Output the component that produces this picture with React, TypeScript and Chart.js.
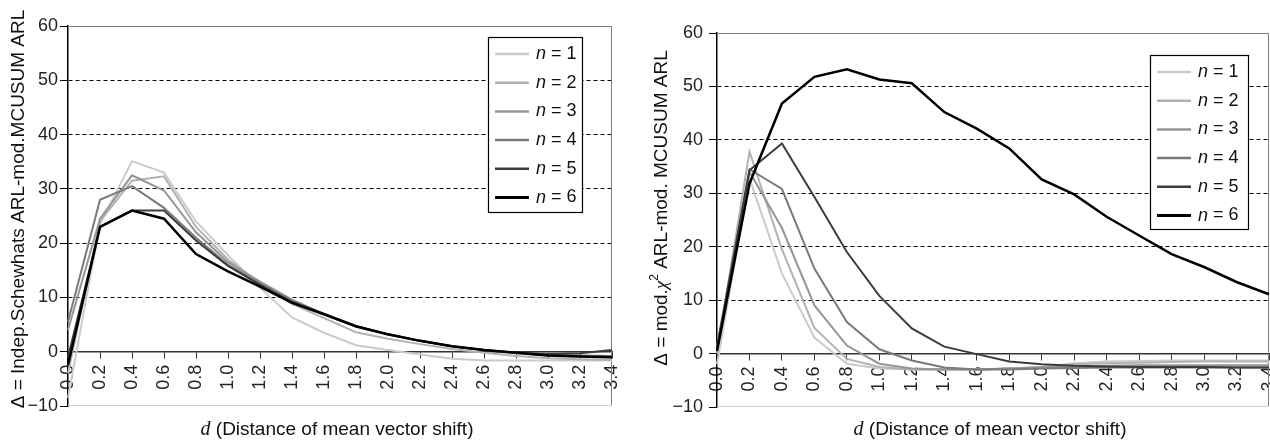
import { useEffect, useRef } from 'react';
import { Chart, registerables } from 'chart.js';

Chart.register(...registerables);

// ---------- data ----------
const dLabels = ['0.0', '0.2', '0.4', '0.6', '0.8', '1.0', '1.2', '1.4', '1.6', '1.8', '2.0', '2.2', '2.4', '2.6', '2.8', '3.0', '3.2', '3.4'];
const seriesNames = ['1', '2', '3', '4', '5', '6'];

const leftN1 = [-8.5, 23.5, 35.1, 33.0, 24.0, 17.8, 11.8, 6.3, 3.5, 1.2, 0.3, -0.5, -1.3, -1.6, -1.6, -1.6, -1.6, -1.6];
const leftN2 = [-4, 24.0, 31.5, 32.3, 23.0, 17.0, 12.6, 8.8, 6.2, 3.6, 2.4, 1.4, 0.5, -0.2, -0.8, -1.2, -1.4, -1.5];
const leftN3 = [4, 24.5, 32.5, 29.7, 22.0, 16.5, 12.9, 9.6, 6.9, 4.6, 3.1, 2.0, 1.0, 0.3, -0.3, -0.7, -0.9, -1.0];
const leftN4 = [5.5, 28.0, 30.5, 26.5, 21.0, 16.0, 12.6, 9.4, 7.0, 4.7, 3.2, 2.0, 1.0, 0.3, -0.2, -0.5, -0.7, -0.8];
const leftN5 = [-1, 23.0, 26.0, 26.0, 20.5, 15.8, 12.3, 9.2, 6.9, 4.7, 3.2, 2.0, 1.0, 0.3, -0.2, -0.4, -0.3, 0.3];
const leftN6 = [-2.5, 23.0, 26.0, 24.5, 18.0, 14.8, 12.0, 9.0, 6.9, 4.7, 3.2, 2.0, 1.0, 0.3, -0.2, -0.7, -0.9, -1.0];

const rightN1 = [-2, 32.8, 15.0, 3.0, -1.9, -2.8, -3.0, -3.0, -3.0, -2.8, -2.5, -1.8, -1.5, -1.4, -1.3, -1.3, -1.3, -1.3];
const rightN2 = [0, 37.8, 19.5, 4.8, -1.0, -2.5, -3.0, -3.0, -3.0, -2.8, -2.5, -2.0, -1.8, -1.7, -1.6, -1.5, -1.5, -1.5];
const rightN3 = [1, 34.0, 23.5, 9.0, 1.5, -1.9, -2.8, -3.0, -3.0, -2.8, -2.6, -2.4, -2.3, -2.2, -2.2, -2.2, -2.2, -2.2];
const rightN4 = [1.5, 34.5, 30.8, 15.9, 5.9, 0.8, -1.3, -2.6, -3.0, -3.0, -2.8, -2.7, -2.6, -2.6, -2.6, -2.6, -2.6, -2.6];
const rightN5 = [1, 34.3, 39.3, 29.3, 19.0, 10.8, 4.7, 1.3, -0.1, -1.5, -2.0, -2.3, -2.4, -2.5, -2.5, -2.5, -2.6, -2.6];
const rightN6 = [0.5, 31.8, 46.8, 51.8, 53.2, 51.3, 50.6, 45.2, 42.1, 38.4, 32.6, 29.8, 25.6, 22.1, 18.6, 16.2, 13.4, 11.1];

const yMin = -10;
const yMax = 60;
const yStep = 10;

const leftYTitle = [{ text: '\u0394 = Indep.Schewhats ARL-mod.MCUSUM ARL', style: 'normal' }];
const rightYTitle = [
  { text: '\u0394 = mod.', style: 'normal' },
  { text: '\u03C7', style: 'italic' },
  { text: '2', style: 'sup' },
  { text: ' ARL-mod. MCUSUM ARL', style: 'normal' },
];
const xTitleVar = 'd';
const xTitleRest = ' (Distance of mean vector shift)';

// ---------- styles ----------
const lineColors = ['#cbcbcb', '#b2b2b2', '#959595', '#7a7a7a', '#3c3c3c', '#000000'];
const lineWidths = [2, 2, 2, 2, 2, 2.5];
const FONT = '"Liberation Sans", Arial, Helvetica, sans-serif';
const SERIF = '"Liberation Serif", "Times New Roman", serif';

const decor = {
  id: 'decor',
  beforeDatasetsDraw(chart: any) {
    const { ctx, chartArea: a } = chart;
    ctx.save();
    ctx.lineWidth = 1;
    ctx.strokeStyle = '#808080';
    ctx.beginPath();
    ctx.moveTo(a.left, a.top + 0.5);
    ctx.lineTo(a.right, a.top + 0.5);
    ctx.moveTo(a.right - 0.5, a.top);
    ctx.lineTo(a.right - 0.5, a.bottom);
    ctx.stroke();
    ctx.strokeStyle = '#cfcfcf';
    ctx.beginPath();
    ctx.moveTo(a.left, a.bottom - 0.5);
    ctx.lineTo(a.right, a.bottom - 0.5);
    ctx.stroke();
    ctx.restore();
  },
  afterDraw(chart: any, _args: any, opts: any) {
    const { ctx, chartArea: a } = chart;
    ctx.save();
    // legend
    const lg = opts.legend;
    const bx = a.right - lg.right - lg.w;
    const by = a.top + lg.top;
    ctx.fillStyle = '#fff';
    ctx.fillRect(bx, by, lg.w, lg.h);
    ctx.strokeStyle = '#000';
    ctx.lineWidth = 1.2;
    ctx.strokeRect(bx + 0.5, by + 0.5, lg.w, lg.h);
    chart.data.datasets.forEach((ds: any, i: number) => {
      const cy = by + 17 + i * 28.7;
      ctx.strokeStyle = ds.borderColor;
      ctx.lineWidth = ds.borderWidth + 0.5;
      ctx.beginPath();
      ctx.moveTo(bx + 7, cy);
      ctx.lineTo(bx + 41, cy);
      ctx.stroke();
      ctx.fillStyle = '#111';
      ctx.textBaseline = 'middle';
      ctx.textAlign = 'left';
      ctx.font = `italic 18px ${FONT}`;
      ctx.fillText('n', bx + 48, cy);
      const w = ctx.measureText('n').width;
      ctx.font = `18px ${FONT}`;
      ctx.fillText(' = ' + seriesNames[i], bx + 48 + w, cy);
    });
    // y title
    const segs = opts.yTitle;
    const fontFor = (s: string) =>
      s === 'italic' ? `italic 19px ${SERIF}` : s === 'sup' ? `12px ${FONT}` : `19px ${FONT}`;
    let total = 0;
    segs.forEach((s: any) => {
      ctx.font = fontFor(s.style);
      total += ctx.measureText(s.text).width;
    });
    ctx.translate(opts.yTitleX, opts.yTitleY);
    ctx.rotate(-Math.PI / 2);
    ctx.fillStyle = '#111';
    ctx.textAlign = 'left';
    ctx.textBaseline = 'middle';
    let x = -total / 2;
    segs.forEach((s: any) => {
      ctx.font = fontFor(s.style);
      ctx.fillText(s.text, x, s.style === 'sup' ? -7 : 0);
      x += ctx.measureText(s.text).width;
    });
    ctx.setTransform(1, 0, 0, 1, 0, 0);
    // x title
    ctx.font = `italic 20px ${SERIF}`;
    const w1 = ctx.measureText(xTitleVar).width;
    ctx.font = `19px ${FONT}`;
    const w2 = ctx.measureText(xTitleRest).width;
    const cx = (a.left + a.right) / 2 - 3;
    const sx = cx - (w1 + w2) / 2;
    ctx.textBaseline = 'middle';
    ctx.font = `italic 20px ${SERIF}`;
    ctx.fillText(xTitleVar, sx, opts.xTitleY);
    ctx.font = `19px ${FONT}`;
    ctx.fillText(xTitleRest, sx + w1, opts.xTitleY);
    ctx.restore();
  },
};

function makeConfig(series: number[][], o: any): any {
  return {
    type: 'line',
    data: {
      labels: dLabels,
      datasets: series.map((d, i) => ({
        label: 'n = ' + seriesNames[i],
        data: d,
        borderColor: lineColors[i],
        backgroundColor: lineColors[i],
        borderWidth: lineWidths[i],
        pointRadius: 0,
        tension: 0,
        order: 5 - i,
      })),
    },
    options: {
      responsive: false,
      animation: false,
      layout: { padding: o.padding },
      plugins: {
        legend: { display: false },
        tooltip: { enabled: false },
        decor: {
          legend: o.legend,
          yTitle: o.yTitle,
          yTitleX: o.yTitleX,
          yTitleY: o.yTitleY,
          xTitleY: 430,
        },
      },
      scales: {
        x: {
          type: 'category',
          position: { y: 0 },
          offset: false,
          grid: { drawOnChartArea: false, drawTicks: true, tickLength: 6, tickColor: '#333', tickWidth: 1 },
          border: { display: true, color: '#333', width: 1.5 },
          ticks: {
            autoSkip: false,
            maxRotation: 90,
            minRotation: 90,
            padding: 7,
            color: '#222',
            font: { family: FONT, size: 18 },
          },
          afterFit: (s: any) => {
            s.height = 0;
            s.paddingLeft = 0;
            s.paddingRight = 0;
          },
        },
        y: {
          type: 'linear',
          position: 'left',
          min: yMin,
          max: yMax,
          ticks: {
            stepSize: yStep,
            padding: o.yPad,
            color: '#222',
            font: { family: FONT, size: 18 },
            callback: (v: any) => String(v).replace('-', '\u2212'),
          },
          grid: {
            color: (c: any) => (c.tick && c.tick.value > 0 && c.tick.value < yMax ? '#000' : 'rgba(0,0,0,0)'),
            lineWidth: 1,
            drawTicks: true,
            tickLength: 8,
            tickColor: '#000',
          },
          border: { display: true, color: '#000', width: 1.5, dash: [4, 3] },
          afterFit: (s: any) => {
            s.width = o.yWidth;
          },
        },
      },
    },
    plugins: [decor],
  };
}

function ChartPanel({ series, cfg, left }: { series: number[][]; cfg: any; left: number }) {
  const ref = useRef<HTMLCanvasElement | null>(null);
  useEffect(() => {
    if (!ref.current) return;
    const chart = new Chart(ref.current, makeConfig(series, cfg));
    return () => chart.destroy();
  }, []);
  return (
    <div style={{ position: 'absolute', left, top: 0, width: 635, height: 443 }}>
      <canvas ref={ref} width={635} height={443} style={{ display: 'block' }} />
    </div>
  );
}

export default function App() {
  const leftCfg = {
    padding: { left: 0, top: 26, right: 23, bottom: 37 },
    yWidth: 68,
    yPad: 2,
    legend: { right: 30, top: 11, w: 94, h: 175 },
    yTitle: leftYTitle,
    yTitleX: 19,
    yTitleY: 209,
  };
  const rightCfg = {
    padding: { left: 0, top: 33, right: 1, bottom: 36 },
    yWidth: 82,
    yPad: 6,
    legend: { right: 21, top: 22, w: 98, h: 174 },
    yTitle: rightYTitle,
    yTitleX: 27,
    yTitleY: 208,
  };
  return (
    <div style={{ position: 'absolute', left: 0, top: 0, width: 1270, height: 443, background: '#fff' }}>
      <ChartPanel series={[leftN1, leftN2, leftN3, leftN4, leftN5, leftN6]} cfg={leftCfg} left={0} />
      <ChartPanel series={[rightN1, rightN2, rightN3, rightN4, rightN5, rightN6]} cfg={rightCfg} left={635} />
    </div>
  );
}
